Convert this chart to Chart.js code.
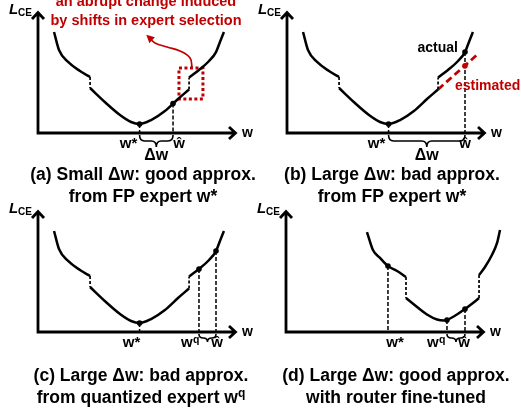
<!DOCTYPE html>
<html>
<head>
<meta charset="utf-8">
<script src="https://cdn.jsdelivr.net/npm/chart.js@4"></script>
<style>
  body { margin: 0; background: #fff; }
  #wrap { position: relative; width: 521px; height: 409px; overflow: hidden; font-family: "Liberation Sans", Arial, sans-serif; }
  #wrap canvas { position: absolute; }
  .cap { position: absolute; width: 280px; text-align: center; font-weight: bold; font-size: 17.5px; line-height: 22px; color: #000; white-space: nowrap; }
  .cap sup { font-size: 12px; line-height: 0; vertical-align: 6px; }
</style>
</head>
<body>
<div id="wrap">
  <canvas id="pa" width="272" height="200" style="left:0;top:0"></canvas>
  <canvas id="pb" width="272" height="200" style="left:249px;top:0"></canvas>
  <canvas id="pc" width="272" height="200" style="left:0;top:199px"></canvas>
  <canvas id="pd" width="272" height="200" style="left:248px;top:199px"></canvas>
  <div class="cap" style="left:3px;top:163px">(a) Small Δw: good approx.<br>from FP expert w*</div>
  <div class="cap" style="left:252px;top:163px">(b) Large Δw: bad approx.<br>from FP expert w*</div>
  <div class="cap" style="left:1px;top:364px">(c) Large Δw: bad approx.<br>from quantized expert w<sup>q</sup></div>
  <div class="cap" style="left:256px;top:364px">(d) Large Δw: good approx.<br>with router fine-tuned</div>
</div>
<script>
// weight w on x, loss L_CE on y, both in arbitrary units (axis arrow at w = 100, L = 100)

// loss landscape of the FP expert (panels a, b, c), three pieces split by expert-selection jumps
const curveLeftW  = [8.1, 10.6, 15.2, 21.2, 26.3];
const curveLeftL  = [83.5, 68.6, 58.7, 51.2, 46.3];
const curveMidW   = [26.3, 34.3, 41.4, 47.0, 51.3, 57.1, 64.1, 70.7, 76.3];
const curveMidL   = [37.2, 24.8, 14.9, 9.1, 7.4, 10.7, 18.2, 28.1, 36.0];
const curveRightW = [76.3, 81.3, 86.4, 89.9, 91.9, 93.9];
const curveRightL = [45.9, 52.1, 59.5, 66.9, 75.2, 83.5];

// landscape with router fine-tuned (panel d)
const tunedLeftW  = [40.9, 43.9, 47.5, 51.5, 56.1, 60.6];
const tunedLeftL  = [82.6, 67.8, 61.2, 54.5, 50.4, 45.5];
const tunedMidW   = [60.6, 66.2, 71.2, 76.3, 79.8, 84.3, 90.4, 94.4, 97.5];
const tunedMidL   = [28.1, 20.7, 14.5, 10.3, 9.5, 12.4, 19.0, 24.0, 28.1];
const tunedRightW = [97.5, 100.5, 104.0, 106.6, 108.1];
const tunedRightL = [47.1, 53.7, 63.6, 73.6, 84.3];

// marked weights per panel
const marksA_W = [51.3, 68.2];        const marksA_L = [7.4, 24.4];        const marksA_T = ['w*', 'ŵ'];
const marksB_W = [51.3, 89.9];        const marksB_L = [7.4, 66.9];        const marksB_T = ['w*', 'ŵ'];
const marksC_W = [51.3, 81.3, 89.9];  const marksC_L = [7.4, 52.1, 66.9];  const marksC_T = ['w*', 'w^q', 'ŵ'];
const marksD_W = [51.5, 81.3, 90.4];  const marksD_L = [54.5, 9.9, 19.0];  const marksD_T = ['w*', 'w^q', 'ŵ'];

// panel b: linear estimate from w*
const estW = [76.3, 97.0];
const estL = [36.0, 66.1];
const estPointW = [89.9];
const estPointL = [55.5];

// panel a: highlighted jump and pointer to the note
const boxW   = [71.2, 83.3, 83.3, 71.2, 71.2];
const boxL   = [53.7, 53.7, 28.1, 28.1, 53.7];
const arrowW = [77.8, 76.8, 71.7, 65.2, 59.1, 55.8];
const arrowL = [53.7, 62.0, 67.8, 71.1, 74.4, 79.5];

const W_MAX = 115;   // scale reaches past the arrow so panel d's curve is not cut
const RED = '#c00000';
const FONT = '"Liberation Sans", Arial, sans-serif';

const xy = (ws, ls) => ws.map((w, i) => ({ x: w, y: ls[i] }));

function drawLabel(ctx, t, cx, base) {
  const parts = t.split('^');
  ctx.font = 'bold 15px ' + FONT;
  const w0 = ctx.measureText(parts[0]).width;
  let w1 = 0;
  if (parts[1]) { ctx.font = 'bold 10.5px ' + FONT; w1 = ctx.measureText(parts[1]).width; }
  const left = cx - (w0 + w1) / 2;
  ctx.textAlign = 'left';
  ctx.font = 'bold 15px ' + FONT;
  ctx.fillText(parts[0], left, base);
  if (parts[1]) { ctx.font = 'bold 10.5px ' + FONT; ctx.fillText(parts[1], left + w0 + 0.5, base - 4); }
}

function brace(ctx, x1, x2, y0, h) {
  const m = (x1 + x2) / 2, r = Math.min(5, (x2 - x1) / 4), yh = y0 + h / 2;
  ctx.beginPath();
  ctx.moveTo(x1, y0); ctx.quadraticCurveTo(x1, yh, x1 + r, yh); ctx.lineTo(m - r, yh); ctx.quadraticCurveTo(m, yh, m, y0 + h);
  ctx.moveTo(x2, y0); ctx.quadraticCurveTo(x2, yh, x2 - r, yh); ctx.lineTo(m + r, yh); ctx.quadraticCurveTo(m, yh, m, y0 + h);
  ctx.stroke();
}

function makeDecor(p) {
  return {
    id: 'decor',
    afterDatasetsDraw(chart) {
      const { ctx, chartArea: a, scales: { x, y } } = chart;
      const tip = x.getPixelForValue(100);
      ctx.save();
      ctx.strokeStyle = '#000';
      ctx.fillStyle = '#000';
      ctx.lineWidth = 2.8;
      // axes with open arrow heads
      ctx.beginPath();
      ctx.moveTo(a.left, a.top + 1); ctx.lineTo(a.left, a.bottom); ctx.lineTo(tip - 1, a.bottom);
      ctx.moveTo(a.left - 6, a.top + 7); ctx.lineTo(a.left, a.top + 0.5); ctx.lineTo(a.left + 6, a.top + 7);
      ctx.moveTo(tip - 7, a.bottom - 6); ctx.lineTo(tip - 0.5, a.bottom); ctx.lineTo(tip - 7, a.bottom + 6);
      ctx.stroke();

      ctx.textBaseline = 'alphabetic';
      ctx.textAlign = 'left';
      ctx.font = 'italic bold 15px ' + FONT;
      ctx.fillText('L', a.left - 29, a.top + 2);
      ctx.font = 'bold 10px ' + FONT;
      ctx.fillText('CE', a.left - 20, a.top + 4);
      ctx.font = 'bold 14px ' + FONT;
      ctx.fillText('w', tip + 6, a.bottom + 4);

      p.marks.w.forEach((w, i) => drawLabel(ctx, p.marks.text[i], x.getPixelForValue(w) + p.marks.dx[i], a.bottom + 15));

      // brace between two marked weights
      ctx.lineWidth = 1.6;
      const b1 = x.getPixelForValue(p.marks.w[p.brace[0]]);
      const b2 = x.getPixelForValue(p.marks.w[p.brace[1]]);
      brace(ctx, b1, b2, a.bottom + 2, p.braceH);
      if (p.delta) {
        ctx.font = 'bold 16px ' + FONT;
        ctx.textAlign = 'center';
        ctx.fillText('Δw', (b1 + b2) / 2, a.bottom + p.braceH + 15);
      }

      if (p.extra === 'a') {
        // arrow head at the end of the red pointer
        const n = arrowW.length;
        const tx = x.getPixelForValue(arrowW[n - 1]), ty = y.getPixelForValue(arrowL[n - 1]);
        const px = x.getPixelForValue(arrowW[n - 2]), py = y.getPixelForValue(arrowL[n - 2]);
        const ang = Math.atan2(ty - py, tx - px);
        ctx.fillStyle = RED;
        ctx.beginPath();
        ctx.moveTo(tx + 3 * Math.cos(ang), ty + 3 * Math.sin(ang));
        ctx.lineTo(tx - 5 * Math.cos(ang) + 4 * Math.sin(ang), ty - 5 * Math.sin(ang) - 4 * Math.cos(ang));
        ctx.lineTo(tx - 5 * Math.cos(ang) - 4 * Math.sin(ang), ty - 5 * Math.sin(ang) + 4 * Math.cos(ang));
        ctx.closePath();
        ctx.fill();
        ctx.font = 'bold 14.5px ' + FONT;
        ctx.textAlign = 'center';
        ctx.fillText('an abrupt change induced', a.left + 108, a.top - 6);
        ctx.fillText('by shifts in expert selection', a.left + 108, a.top + 13);
      }
      if (p.extra === 'b') {
        ctx.font = 'bold 14px ' + FONT;
        ctx.textAlign = 'right';
        ctx.fillStyle = '#000';
        ctx.fillText('actual', x.getPixelForValue(marksB_W[1]) - 7, y.getPixelForValue(marksB_L[1]));
        ctx.textAlign = 'left';
        ctx.fillStyle = RED;
        ctx.fillText('estimated', x.getPixelForValue(84.8), y.getPixelForValue(35.5));
      }
      ctx.restore();
    }
  };
}

function makePanel(p) {
  const ds = [];
  const add = (data, o) => ds.push(Object.assign({
    data, borderColor: '#000', borderWidth: 2.5, pointRadius: 0, fill: false, clip: false
  }, o));

  add(xy(p.marks.w, p.marks.l), { showLine: false, pointRadius: 2.8, pointBackgroundColor: '#000', pointBorderWidth: 0 });
  if (p.extra === 'b') {
    add(xy(estPointW, estPointL), { showLine: false, pointRadius: 2.8, pointBackgroundColor: RED, pointBorderWidth: 0 });
  }
  p.curves.forEach(c => add(xy(c[0], c[1]), { cubicInterpolationMode: 'monotone' }));
  // dashed jumps where the selected experts change
  for (let i = 0; i + 1 < p.curves.length; i++) {
    const c0 = p.curves[i], c1 = p.curves[i + 1];
    add([{ x: c0[0][c0[0].length - 1], y: c0[1][c0[1].length - 1] }, { x: c1[0][0], y: c1[1][0] }],
      { borderWidth: 1.7, borderDash: [3, 2] });
  }
  // drop lines to the w axis
  p.marks.w.forEach((w, i) => add([{ x: w, y: p.marks.l[i] }, { x: w, y: 0 }], { borderWidth: 1.5, borderDash: [4, 2] }));

  if (p.extra === 'a') {
    add(xy(boxW, boxL), { borderColor: RED, borderWidth: 3, borderDash: [3, 2.5] });
    add(xy(arrowW, arrowL), { borderColor: RED, borderWidth: 1.7, tension: 0.4 });
  }
  if (p.extra === 'b') {
    add(xy(estW, estL), { borderColor: RED, borderWidth: 2.8, borderDash: [7, 4] });
  }

  new Chart(document.getElementById(p.id), {
    type: 'line',
    data: { datasets: ds },
    options: {
      responsive: false,
      animation: false,
      events: [],
      // w = 0..100 spans 198 px, L = 0..100 spans 121 px
      layout: { padding: { left: 38, top: 12, right: 272 - 38 - 198 * W_MAX / 100, bottom: 67 } },
      scales: {
        x: { type: 'linear', min: 0, max: W_MAX, display: false },
        y: { type: 'linear', min: 0, max: 100, display: false }
      },
      plugins: { legend: { display: false }, tooltip: { enabled: false } }
    },
    plugins: [makeDecor(p)]
  });
}

const fpCurve = [[curveLeftW, curveLeftL], [curveMidW, curveMidL], [curveRightW, curveRightL]];
const tunedCurve = [[tunedLeftW, tunedLeftL], [tunedMidW, tunedMidL], [tunedRightW, tunedRightL]];

makePanel({ id: 'pa', curves: fpCurve, marks: { w: marksA_W, l: marksA_L, text: marksA_T, dx: [-11, 6] },
  brace: [0, 1], braceH: 12, delta: true, extra: 'a' });
makePanel({ id: 'pb', curves: fpCurve, marks: { w: marksB_W, l: marksB_L, text: marksB_T, dx: [-12, 0] },
  brace: [0, 1], braceH: 12, delta: true, extra: 'b' });
makePanel({ id: 'pc', curves: fpCurve, marks: { w: marksC_W, l: marksC_L, text: marksC_T, dx: [-8, -9, 1] },
  brace: [1, 2], braceH: 8, delta: false });
makePanel({ id: 'pd', curves: tunedCurve, marks: { w: marksD_W, l: marksD_L, text: marksD_T, dx: [7, -11, -1] },
  brace: [1, 2], braceH: 8, delta: false });
</script>
</body>
</html>
